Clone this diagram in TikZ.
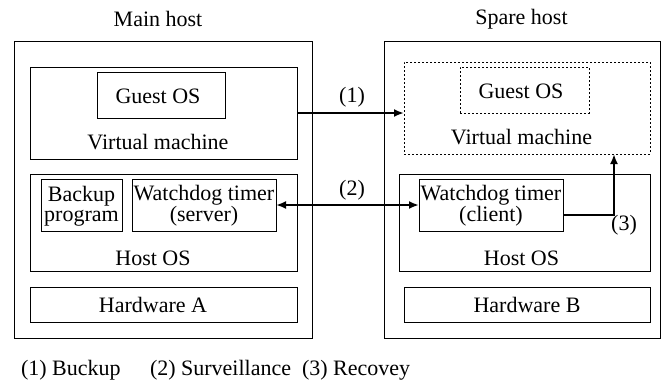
\documentclass[tikz,border=0pt]{standalone}
\usepackage{fontspec}
\setmainfont{Liberation Serif}
\usetikzlibrary{arrows.meta}
\begin{document}
\begin{tikzpicture}[x=1pt,y=-1pt,
  every node/.style={font=\fontsize{22}{19.5}\selectfont, inner sep=0pt, outer sep=0pt},
  box/.style={draw, line width=0.9pt, minimum width=#1},
  dbox/.style={draw, line width=0.9pt, dash pattern=on 2pt off 2pt, minimum width=#1},
  txt/.style={align=center},
  conn/.style={line width=2.6pt, -{Latex[length=10pt,width=8pt]}},
  conn2/.style={line width=2.6pt, {Latex[length=10pt,width=8pt]}-{Latex[length=10pt,width=8pt]}}
]
\useasboundingbox (0,0) rectangle (664,381);
% main host
\node[box=298pt, minimum height=297pt] (hostA) at (163,189.5) {};
\node[box=267pt, minimum height=92pt] (vmA) at (163.5,113) {};
\node[box=128pt, minimum height=46pt] (gA) at (161,95) {};
\node[box=267pt, minimum height=97pt] (osA) at (163.5,222.5) {};
\node[box=81pt, minimum height=52pt] (bk) at (81.5,205) {};
\node[box=144pt, minimum height=52pt] (wdS) at (204,205) {};
\node[box=267pt, minimum height=35pt] (hwA) at (163.5,304.5) {};
% spare host
\node[box=276pt, minimum height=297pt] (hostB) at (522,189.5) {};
\node[dbox=246pt, minimum height=92pt] (vmB) at (527,108) {};
\node[dbox=129pt, minimum height=46pt] (gB) at (524.5,90) {};
\node[box=251pt, minimum height=97pt] (osB) at (524.5,222.5) {};
\node[box=144pt, minimum height=52pt] (wdC) at (491,205) {};
\node[box=246pt, minimum height=35pt] (hwB) at (527,304.5) {};
% texts
\node (tA) at (158,19) {Main host};
\node (tB) at (521.5,19) {Spare host};
\node (tgA) at (158,96) {Guest OS};
\node (tvA) at (158,142) {Virtual machine};
\node[txt] (tbk) at (81.5,206) {Backup\\program};
\node[txt] (twS) at (204,206) {Watchdog timer\\(server)};
\node (toA) at (153,258) {Host OS};
\node (thA) at (153,305) {Hardware A};
\node (tgB) at (521,91) {Guest OS};
\node (tvB) at (521.5,137) {Virtual machine};
\node[txt] (twC) at (491,206) {Watchdog timer\\(client)};
\node (toB) at (521.5,258) {Host OS};
\node (thB) at (527,305) {Hardware B};
% connectors
\draw[conn] (vmA.east) -- (vmA.east -| vmB.west);
\node (l1) at (352,97) {(1)};
\draw[conn2] (wdS.east) -- (wdS.east -| wdC.west);
\node (l2) at (352,190) {(2)};
\coordinate (c3) at (614,154);
\draw[conn] ([yshift=-10pt]wdC.east) -| (c3);
\node (l3) at (624,225) {(3)};
% legend
\node[anchor=base west] (lg1) at (21,375) {(1) Buckup};
\node[anchor=base west] (lg2) at (150,375) {(2) Surveillance};
\node[anchor=base west] (lg3) at (302,375) {(3) Recovey};
\end{tikzpicture}
\end{document}
